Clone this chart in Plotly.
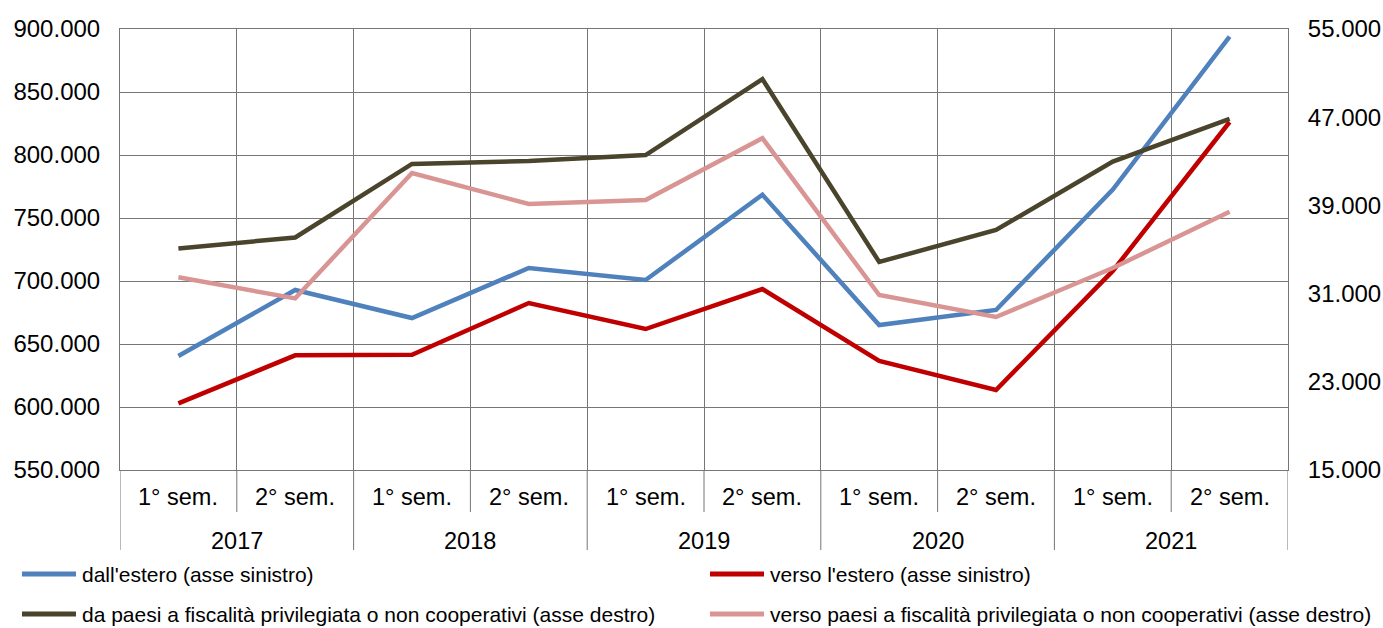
import plotly.graph_objects as go

# ---- data ----
semesters = ["1° sem.", "2° sem."] * 5
years = ["2017", "2018", "2019", "2020", "2021"]

dall_estero = [640500, 692900, 670600, 710300, 700800, 768500, 665000, 677000, 772500, 893900]
verso_estero = [602900, 641000, 641500, 682500, 661900, 693600, 636500, 613500, 708000, 826200]
da_paesi = [35100, 36090, 42760, 43030, 43570, 50450, 33870, 36770, 42970, 46840]
verso_paesi = [32480, 30570, 41940, 39130, 39490, 45090, 30870, 28880, 33320, 38430]

left_ticks = list(range(550000, 900001, 50000))
right_ticks = list(range(15000, 55001, 8000))

names = [
    "dall'estero (asse sinistro)",
    "verso l'estero (asse sinistro)",
    "da paesi a fiscalità privilegiata o non cooperativi (asse destro)",
    "verso paesi a fiscalità privilegiata o non cooperativi (asse destro)",
]
colors = ["#4F81BD", "#C00000", "#4A442C", "#D99594"]

FONT = "Liberation Sans, Arial, sans-serif"
GRID = "#767676"

x = list(range(len(semesters)))

fig = go.Figure()
series = [
    (dall_estero, "y"),
    (verso_estero, "y"),
    (da_paesi, "y2"),
    (verso_paesi, "y2"),
]
for (vals, yax), name, col in zip(series, names, colors):
    fig.add_trace(go.Scatter(
        x=x, y=vals, name=name, mode="lines", yaxis=yax,
        line=dict(color=col, width=4.5), showlegend=False,
    ))

W, H = 1383, 628
L, R, T, B = 120, 95, 29, 158
ph = H - T - B
pw = W - L - R


def py(pix):
    return (H - B - pix) / ph


def px(pix):
    return (pix - L) / pw


shapes = []
# lines extending below the plot into the category table
for i in range(len(semesters) + 1):
    xb = i - 0.5
    long_line = (i % 2 == 0)
    shapes.append(dict(
        type="line", xref="x", yref="paper", x0=xb, x1=xb,
        y0=0, y1=py(550) if long_line else py(512),
        line=dict(color=GRID, width=1), layer="below",
    ))

annotations = []
for i, s in enumerate(semesters):
    annotations.append(dict(
        x=i, y=py(497), xref="x", yref="paper", text=s, showarrow=False,
        xanchor="center", yanchor="middle", font=dict(size=23.5, color="#000", family=FONT),
    ))
for k, yr in enumerate(years):
    annotations.append(dict(
        x=2 * k + 0.5, y=py(541), xref="x", yref="paper", text=yr, showarrow=False,
        xanchor="center", yanchor="middle", font=dict(size=23.5, color="#000", family=FONT),
    ))

# legend (drawn manually in two columns)
leg_pos = [(22, 574), (710, 574), (22, 614), (710, 614)]
for (lx, ly), name, col in zip(leg_pos, names, colors):
    shapes.append(dict(
        type="line", xref="paper", yref="paper",
        x0=px(lx), x1=px(lx + 54), y0=py(ly), y1=py(ly),
        line=dict(color=col, width=5),
    ))
    annotations.append(dict(
        x=px(lx + 58), y=py(ly), xref="paper", yref="paper", text=name,
        showarrow=False, xanchor="left", yanchor="middle",
        font=dict(size=21, color="#000", family=FONT),
    ))

fig.update_layout(
    width=W, height=H,
    margin=dict(l=L, r=R, t=T, b=B, pad=0, autoexpand=False),
    paper_bgcolor="white", plot_bgcolor="white",
    separators=",.",
    font=dict(family=FONT, color="#000"),
    showlegend=False,
    hovermode=False,
    xaxis=dict(
        range=[-0.5, len(semesters) - 0.5],
        tickvals=[i + 0.5 for i in range(len(semesters) - 1)],
        showticklabels=False, showgrid=True, gridcolor=GRID, gridwidth=1,
        showline=True, linecolor=GRID, linewidth=1, mirror=True,
        zeroline=False, ticks="",
    ),
    yaxis=dict(
        range=[left_ticks[0], left_ticks[-1]], tickvals=left_ticks, tickformat=",d",
        showgrid=True, gridcolor=GRID, gridwidth=1,
        showline=True, linecolor=GRID, linewidth=1, mirror=True, zeroline=False,
        ticks="outside", ticklen=14, tickcolor="rgba(0,0,0,0)",
        tickfont=dict(size=24, color="#000", family=FONT),
    ),
    yaxis2=dict(
        range=[right_ticks[0], right_ticks[-1]], tickvals=right_ticks, tickformat=",d",
        overlaying="y", side="right", showgrid=False, zeroline=False,
        ticks="outside", ticklen=14, tickcolor="rgba(0,0,0,0)",
        tickfont=dict(size=24, color="#000", family=FONT),
    ),
    shapes=shapes,
    annotations=annotations,
)

fig.write_html(
    "out.html",
    config={"displayModeBar": False, "staticPlot": True},
    post_script="document.body.style.margin='0px';document.body.style.overflow='hidden';",
)
